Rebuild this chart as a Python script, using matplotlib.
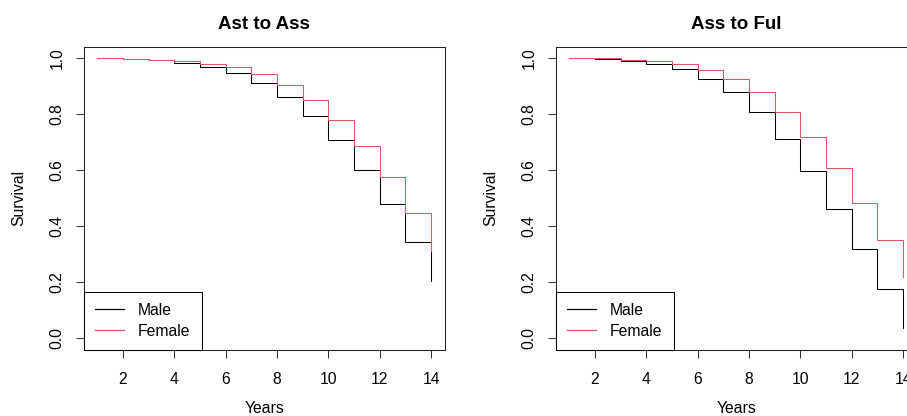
import matplotlib
matplotlib.use("Agg")
import matplotlib.pyplot as plt

plt.rcParams['font.family'] = ['Liberation Sans', 'DejaVu Sans']

years = list(range(1, 15))
titles = ["Ast to Ass", "Ass to Ful"]
series_labels = ["Male", "Female"]
colors = ["#000000", "#DF536B"]

ast_ass_male = [1.000, 0.996, 0.993, 0.984, 0.970, 0.946, 0.911, 0.861, 0.793, 0.707, 0.601, 0.479, 0.345, 0.206]
ast_ass_female = [1.000, 0.998, 0.995, 0.990, 0.981, 0.967, 0.942, 0.904, 0.850, 0.779, 0.686, 0.577, 0.449, 0.312]
ass_ful_male = [1.000, 0.996, 0.991, 0.981, 0.961, 0.927, 0.879, 0.808, 0.713, 0.596, 0.463, 0.319, 0.175, 0.036]
ass_ful_female = [1.000, 0.999, 0.995, 0.990, 0.980, 0.959, 0.927, 0.879, 0.809, 0.718, 0.608, 0.482, 0.350, 0.218]

xticks = [2, 4, 6, 8, 10, 12, 14]
yticks = [0.0, 0.2, 0.4, 0.6, 0.8, 1.0]
ytick_labels = ["0.0", "0.2", "0.4", "0.6", "0.8", "1.0"]

W, H = 907, 416
fig = plt.figure(figsize=(W / 100, H / 100), dpi=100)

panels = [(ast_ass_male, ast_ass_female), (ass_ful_male, ass_ful_female)]
lefts = [84, 556]
ax_w = 360.5
ax_bottom = 349.5
ax_top = 47.0
fs = 11.3

for i, (male, female) in enumerate(panels):
    ax = fig.add_axes([lefts[i] / W, (H - ax_bottom) / H, ax_w / W, (ax_bottom - ax_top) / H])
    ax.step(years, male, where='post', color=colors[0], lw=0.75, label=series_labels[0])
    ax.step(years, female, where='post', color=colors[1], lw=0.75, label=series_labels[1])
    ax.set_xlim(0.48, 14.52)
    ax.set_ylim(-0.04, 1.04)
    ax.set_xticks(xticks)
    ax.set_xticklabels([str(t) for t in xticks], fontsize=fs)
    ax.set_yticks(yticks)
    ax.set_yticklabels(ytick_labels, fontsize=fs, rotation=90, va='center')
    ax.tick_params(axis='both', direction='out', length=6, width=0.75, color='#333333')
    ax.tick_params(axis='x', pad=10)
    ax.tick_params(axis='y', pad=8)
    for s in ax.spines.values():
        s.set_linewidth(0.75)
        s.set_color('#222222')
    ax.set_title(titles[i], fontsize=13.5, fontweight='bold', pad=13)
    ax.set_xlabel("Years", fontsize=fs, labelpad=10)
    ax.set_ylabel("Survival", fontsize=fs, labelpad=17)
    leg = ax.legend(loc='lower left', borderaxespad=0, fancybox=False, framealpha=1,
                    edgecolor='black', fontsize=fs, handlelength=1.85, handletextpad=0.9,
                    borderpad=0.7, labelspacing=0.38)
    leg.get_frame().set_linewidth(0.75)
    for line in leg.get_lines():
        line.set_linewidth(0.9)

fig.savefig("out.png", dpi=100)
